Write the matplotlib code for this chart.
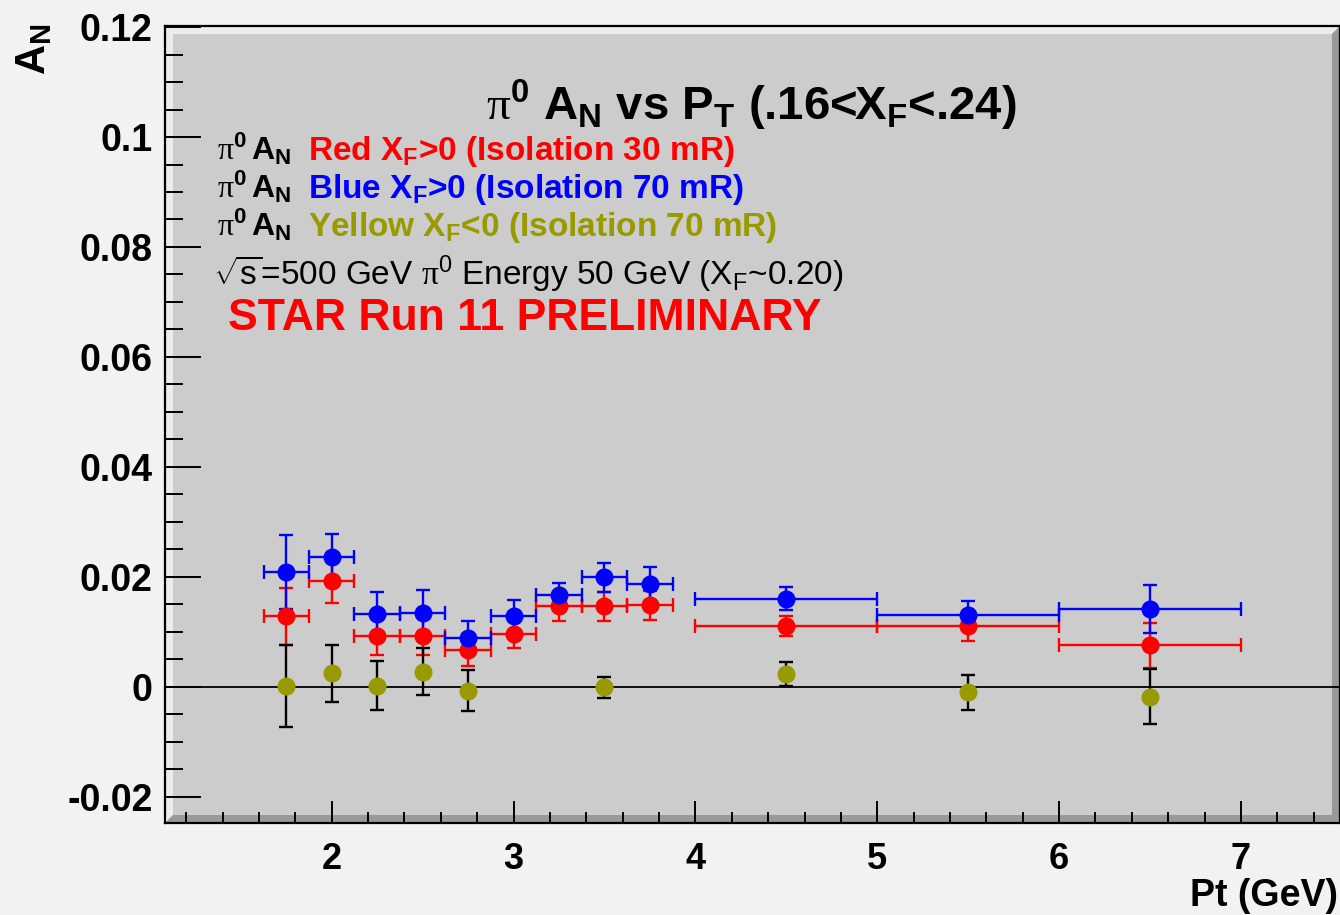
import matplotlib
matplotlib.use("Agg")
import matplotlib.pyplot as plt
from matplotlib.patches import Polygon
from matplotlib.ticker import MultipleLocator, FixedFormatter, FixedLocator

# values
pt = [1.75, 2.0, 2.25, 2.5, 2.75, 3.0, 3.25, 3.5, 3.75, 4.5, 5.5, 6.5]
pt_err = [0.125, 0.125, 0.125, 0.125, 0.125, 0.125, 0.125, 0.125, 0.125, 0.5, 0.5, 0.5]

red_an = [0.0128, 0.0193, 0.0092, 0.0092, 0.0066, 0.0095, 0.0146, 0.0146, 0.0148, 0.0111, 0.0110, 0.0075]
red_err = [0.0052, 0.0040, 0.0035, 0.0035, 0.0029, 0.0025, 0.0027, 0.0026, 0.0026, 0.0018, 0.0027, 0.0041]

blue_an = [0.0209, 0.0236, 0.0133, 0.0134, 0.0089, 0.0128, 0.0167, 0.0199, 0.0187, 0.0160, 0.0131, 0.0141]
blue_err = [0.0067, 0.0042, 0.0039, 0.0042, 0.0030, 0.0029, 0.0021, 0.0026, 0.0031, 0.0021, 0.0024, 0.0044]

yellow_pt = [1.75, 2.0, 2.25, 2.5, 2.75, 3.5, 4.5, 5.5, 6.5]
yellow_an = [0.0001, 0.0024, 0.0002, 0.0027, -0.0007, -0.0001, 0.0023, -0.0010, -0.0018]
yellow_err = [0.0075, 0.0051, 0.0044, 0.0043, 0.0037, 0.0019, 0.0022, 0.0032, 0.0050]

yticks = [-0.02, 0.0, 0.02, 0.04, 0.06, 0.08, 0.1, 0.12]
ytick_labels = ["-0.02", "0", "0.02", "0.04", "0.06", "0.08", "0.1", "0.12"]

RED = "#ff0000"
BLUE = "#0000ff"
OLIVE = "#999900"

plt.rcParams["font.family"] = ["Liberation Sans", "DejaVu Sans"]
plt.rcParams["mathtext.fontset"] = "custom"
plt.rcParams["mathtext.rm"] = "Liberation Sans:bold"
plt.rcParams["mathtext.it"] = "Liberation Sans:bold"
plt.rcParams["mathtext.bf"] = "Liberation Sans:bold"
plt.rcParams["mathtext.sf"] = "Liberation Sans"
plt.rcParams["mathtext.cal"] = "Liberation Serif"

W, H = 1340, 915
fig = plt.figure(figsize=(W / 100, H / 100), dpi=100, facecolor="#f2f2f2")
L, R, T, B = 165, 1340, 26, 823
ax = fig.add_axes([L / W, 1 - B / H, (R - L) / W, (B - T) / H])
ax.set_facecolor("#cccccc")


def px(x, y):
    return x / W, 1 - y / H


# ROOT-like raised frame border
bw = 8
dx, dy = bw / (R - L), bw / (B - T)
ax.add_patch(Polygon([(0, 0), (0, 1), (1, 1), (1 - dx, 1 - dy), (dx, 1 - dy), (dx, dy)],
                     closed=True, transform=ax.transAxes, fc="#ececec", ec="none", zorder=0.5))
ax.add_patch(Polygon([(0, 0), (1, 0), (1, 1), (1 - dx, 1 - dy), (1 - dx, dy), (dx, dy)],
                     closed=True, transform=ax.transAxes, fc="#999999", ec="none", zorder=0.5))

ax.axhline(0, color="black", lw=1.3, zorder=1)

kw = dict(fmt="o", ms=12, capsize=4.8, elinewidth=1.7, capthick=1.7, zorder=3)
ax.errorbar(pt, red_an, yerr=red_err, xerr=pt_err, color=RED, **kw)
ax.errorbar(pt, blue_an, yerr=blue_err, xerr=pt_err, color=BLUE, **kw)
ax.errorbar(yellow_pt, yellow_an, yerr=yellow_err, mfc=OLIVE, mec=OLIVE,
            ecolor="black", **kw)

ax.set_xlim(1.083, 7.545)
ax.set_ylim(-0.0248, 0.1202)

ax.xaxis.set_major_locator(MultipleLocator(1))
ax.xaxis.set_minor_locator(MultipleLocator(0.2))
ax.yaxis.set_major_locator(FixedLocator(yticks))
ax.yaxis.set_major_formatter(FixedFormatter(ytick_labels))
ax.yaxis.set_minor_locator(MultipleLocator(0.005))

ax.tick_params(axis="x", which="major", direction="in", length=16, width=1.4,
               pad=14, labelsize=26, top=False)
ax.tick_params(axis="x", which="minor", direction="in", length=8, width=1.4, top=False)
ax.tick_params(axis="y", which="major", direction="in", length=26, width=1.4,
               pad=9, labelsize=27, right=False)
ax.tick_params(axis="y", which="minor", direction="in", length=13, width=1.4, right=False)
for lab in ax.get_xticklabels() + ax.get_yticklabels():
    lab.set_fontweight("bold")

for s in ax.spines.values():
    s.set_linewidth(1.6)
    s.set_zorder(4)

# axis titles
fig.text(*px(34, 23), r"A$_{N}$", rotation=90, ha="center", va="top",
         fontsize=30, fontweight="bold")
fig.text(*px(1338, 906), "Pt (GeV)", ha="right", va="baseline",
         fontsize=27, fontweight="bold")

# title
fig.text(*px(751, 120), r"$\mathcal{\pi}^{0}$ A$_{N}$ vs P$_{T}$ (.16<X$_{F}$<.24)",
         ha="center", va="baseline", fontsize=34, fontweight="bold")

# legend-like labels
rows = [
    (160, "Red X$_{F}$>0 (Isolation 30 mR)", RED),
    (198, "Blue X$_{F}$>0 (Isolation 70 mR)", BLUE),
    (236, "Yellow X$_{F}$<0 (Isolation 70 mR)", OLIVE),
]
for yb, txt, col in rows:
    fig.text(*px(217, yb), r"$\mathcal{\pi}^{0}\,$A$_{N}$", ha="left", va="baseline",
             fontsize=23, fontweight="bold", color="black")
    fig.text(*px(308, yb), txt, ha="left", va="baseline",
             fontsize=24, fontweight="bold", color=col)

fig.text(*px(213, 285),
         r"$\mathsf{\sqrt{s}}$=500 GeV $\mathcal{\pi}^{\mathsf{0}}$ Energy 50 GeV (X$_{\mathsf{F}}$~0.20)",
         ha="left", va="baseline", fontsize=24, color="black")
fig.text(*px(228, 330), "STAR Run 11 PRELIMINARY", ha="left", va="baseline",
         fontsize=32, fontweight="bold", color=RED)

fig.savefig("out.png", dpi=100, facecolor=fig.get_facecolor())
